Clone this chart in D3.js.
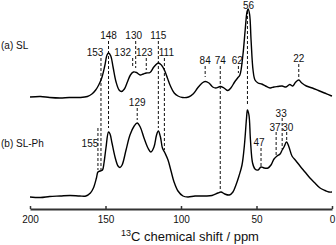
<!DOCTYPE html>
<html>
<head>
<meta charset="utf-8">
<script src="https://cdn.jsdelivr.net/npm/d3@7/dist/d3.min.js"></script>
<style>
    body { margin: 0; background: #fff; }
    svg text { font-family: "Liberation Sans", Arial, sans-serif; font-size: 10px; fill: #111; }
</style>
</head>
<body>
<svg id="chart" width="336" height="245"></svg>
<script>
// spectrum (a) SL -- [ppm, intensity above own baseline]
const slSpectrum = [
    [200, 0], [193, 0.5], [187, -0.5], [180, -1], [174, -0.5], [167, -0.5], [162, 0.5],
    [159, 3], [156.5, 7], [154.5, 12], [152.5, 19], [150.5, 31], [149, 42], [148, 44],
    [146.5, 41], [145, 30], [143, 15], [141, 7], [139.5, 5.5], [137.5, 8], [135.5, 15],
    [133.5, 22], [131.5, 25], [129.5, 24.5], [127, 22], [125, 23], [123, 24], [120.5, 24.5],
    [118, 30], [115, 34], [113, 32], [111, 27], [109, 19], [107, 11], [104.5, 4], [102, 1],
    [99, -0.5], [95, 0], [92, 3], [89, 9], [86, 14], [84, 15.5], [81.5, 14], [79, 10],
    [77, 9], [74, 10.5], [71.5, 9], [69, 6.5], [67, 9], [64.5, 15], [62.5, 19], [61, 22],
    [59, 42], [57.5, 67], [56.3, 85], [55.6, 88], [54.6, 83], [53.6, 57], [52.3, 27],
    [51, 17], [49, 14], [46.5, 13], [44, 11], [41, 9], [38.5, 10], [36, 10.5], [33, 11],
    [30.5, 10], [28, 12.5], [26, 11], [24, 15], [22, 17], [20, 14], [17, 11], [13, 9],
    [9, 6.5], [5, 4], [1, 1.5], [0, 1]
]

// spectrum (b) SL-Ph
const slPhSpectrum = [
    [200, 0], [193, -0.5], [187, 0.5], [180, 1], [173.5, 1.5], [167, 1], [163, 1],
    [160, 4], [158, 9], [156, 19], [155, 25], [153.6, 26], [152, 27], [151, 34],
    [149.7, 49], [148, 65], [147, 63], [145.7, 54], [143.7, 40], [141.7, 31], [140.4, 29.5],
    [139, 32], [136.4, 47], [133.8, 62], [131, 71], [129, 74], [127, 70], [124.5, 59],
    [121.9, 49], [119.9, 45], [117.9, 50], [116.2, 62], [115, 66], [113.6, 60], [112.3, 49],
    [110.6, 44], [108.6, 37], [106.6, 26], [104.6, 15], [102, 6], [98.7, 1], [95.4, 0],
    [90.7, 1], [84, 1], [79.5, 1.5], [75.5, 4], [73.5, 5], [71, 3], [68, 2], [65.6, 5],
    [63.6, 12], [61.6, 21], [59.6, 32], [58, 52], [56.6, 79], [56, 87], [55, 82], [54, 57],
    [52.6, 34], [51, 28], [49, 27], [47, 30], [45, 29], [42.4, 29], [40.4, 32], [38.4, 38],
    [36.4, 41], [34.4, 43], [33, 47], [31.8, 50], [30.1, 55], [28.5, 50], [26.5, 41],
    [23.8, 36], [21.2, 31], [17.9, 25], [14.6, 19], [11.3, 14], [7.9, 9], [4.6, 6.5],
    [2, 5], [0, 5]
]

const spectra = [
    {name: "(a) SL", values: slSpectrum, offset: 112},
    {name: "(b) SL-Ph", values: slPhSpectrum, offset: 12},
]

const xTicks = [200, 150, 100, 50, 0]
const peakLabels = [148, 130, 115, 153, 132, 123, 111, 84, 74, 62, 56, 22, 129, 155, 47, 37, 33, 30]

// label and marker layout (pixels)
const markLayout = {
    148: {ty: 35, y1: 41, y2: 128},
    130: {ty: 35, dx: -2, y1: 41, y2: 68},
    115: {ty: 35, y1: 41, y2: 128},
    153: {ty: 52, dx: -6, y1: 58, y2: 170},
    132: {ty: 52, dx: -10, y1: 58, y2: 68},
    123: {ty: 52, dx: -2, y1: 58, y2: 70},
    111: {ty: 52, dx: 2, y1: 58, y2: 150},
    84:  {ty: 60, y1: 66, y2: 77},
    74:  {ty: 60, y1: 66, y2: 190},
    62:  {ty: 60, dx: -1, y1: 66, y2: 73},
    56:  {ty: 5, dx: 1, y1: 11, y2: 106},
    22:  {ty: 58, y1: 64, y2: 78},
    129: {ty: 102, y1: 108, y2: 120},
    155: {ty: 143, dx: -8, y1: 128, y2: 170},
    47:  {ty: 142, dx: -2, y1: 148, y2: 166},
    37:  {ty: 127, dx: -1, y1: 132, y2: 155},
    33:  {ty: 113, dx: -1, y1: 118, y2: 149},
    30:  {ty: 127, dx: 1, y1: 132, y2: 141},
}
const nameY = {"(a) SL": 45, "(b) SL-Ph": 143}

const svg = d3.select("#chart")

// scales -- ppm axis runs right to left
const x = d3.scaleLinear().domain([200, 0]).range([30, 332])
const y = d3.scaleLinear().domain([0, 209]).range([209, 0])

// dashed peak markers (drawn under the traces)
svg.append("g")
    .selectAll("line")
    .data(peakLabels)
    .join("line")
    .attr("x1", d => x(d)).attr("x2", d => x(d))
    .attr("y1", d => markLayout[d].y1).attr("y2", d => markLayout[d].y2)
    .attr("stroke", "#111")
    .attr("stroke-width", 1)
    .attr("stroke-dasharray", "3,2")

// traces
let line = d3.line()
    .x(d => x(d[0]))
    .y(d => y(d[1]))
    .curve(d3.curveCatmullRom.alpha(0.5))

svg.append("g")
    .selectAll("path")
    .data(spectra)
    .join("path")
    .attr("d", s => line(s.values.map(p => [p[0], p[1] + s.offset])))
    .attr("fill", "none")
    .attr("stroke", "#000")
    .attr("stroke-width", 1.4)
    .attr("stroke-linejoin", "round")

// peak labels
svg.append("g")
    .selectAll("text")
    .data(peakLabels)
    .join("text")
    .attr("x", d => x(d) + (markLayout[d].dx || 0))
    .attr("y", d => markLayout[d].ty)
    .attr("dy", "0.35em")
    .attr("text-anchor", "middle")
    .text(d => d)

// spectrum names
svg.append("g")
    .selectAll("text")
    .data(spectra)
    .join("text")
    .attr("x", 1)
    .attr("y", s => nameY[s.name])
    .attr("dy", "0.35em")
    .text(s => s.name)

// x axis, ticks pointing inward
let axis = svg.append("g")
    .attr("transform", "translate(0,209)")
    .call(d3.axisBottom(x).tickValues(xTicks).tickSizeInner(-3).tickSizeOuter(0).tickPadding(7))

axis.select(".domain").attr("stroke", "#333").attr("stroke-width", 2)
axis.selectAll(".tick line").attr("stroke", "#333").attr("stroke-width", 1.5)
axis.selectAll(".tick text").attr("fill", "#111")

// axis title -- css rule on text wins over attributes, so use style()
let title = svg.append("text")
    .attr("x", 190)
    .attr("y", 241)
    .attr("text-anchor", "middle")
    .style("font-size", "13px")
title.append("tspan").style("font-size", "9px").attr("dy", -5).text("13")
title.append("tspan").attr("dy", 5).text("C chemical shift / ppm")
</script>
</body>
</html>
